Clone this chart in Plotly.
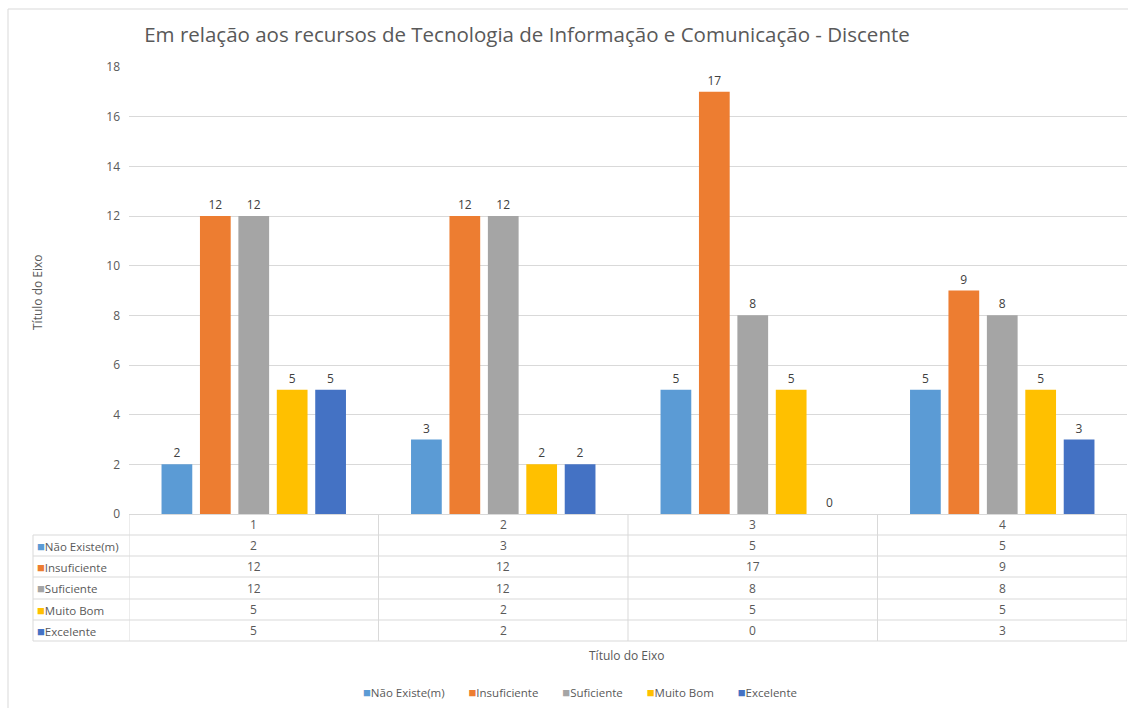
import plotly.graph_objects as go

categories = ["1", "2", "3", "4"]
series_names = ["Não Existe(m)", "Insuficiente", "Suficiente", "Muito Bom", "Excelente"]
nao_existe = [2, 3, 5, 5]
insuficiente = [12, 12, 17, 9]
suficiente = [12, 12, 8, 8]
muito_bom = [5, 2, 5, 5]
excelente = [5, 2, 0, 3]
series_values = [nao_existe, insuficiente, suficiente, muito_bom, excelente]
colors = ["#5B9BD5", "#ED7D31", "#A5A5A5", "#FFC000", "#4472C4"]

title_text = "Em relação aos recursos de Tecnologia de Informação e Comunicação - Discente"
axis_title = "Título do Eixo"

W, H = 1128, 708
ML, MR, MT, MB = 129, 1, 67, 194
PW, PH = W - ML - MR, H - MT - MB
FONT = "Open Sans"
TXT = "#595959"
GRID = "#D9D9D9"


def X(px):
    return (px - ML) / PW


def Y(py):
    return (H - MB - py) / PH


fig = go.Figure()
for name, vals, col in zip(series_names, series_values, colors):
    fig.add_trace(go.Bar(
        name=name, x=categories, y=vals, marker=dict(color=col, line=dict(width=0)),
        text=[str(v) for v in vals], textposition="outside",
        textfont=dict(size=12, color="#404040", family=FONT), cliponaxis=False,
        showlegend=False,
    ))

shapes = []
# outer chart border
shapes.append(dict(type="rect", xref="paper", yref="paper", x0=X(8), x1=X(1140), y0=Y(9), y1=Y(720),
                   line=dict(color=GRID, width=1), layer="below"))
# table horizontal lines
row_lines = [535, 556, 577, 599, 620, 641]
for py in row_lines:
    shapes.append(dict(type="line", xref="paper", yref="paper", x0=X(33), x1=X(1127), y0=Y(py), y1=Y(py),
                       line=dict(color=GRID, width=1)))
# table vertical lines at category boundaries
for b in [-0.5, 0.5, 1.5, 2.5, 3.5]:
    shapes.append(dict(type="line", xref="x", yref="paper", x0=b, x1=b, y0=0, y1=Y(641),
                       line=dict(color=GRID, width=1)))
shapes.append(dict(type="line", xref="paper", yref="paper", x0=X(33), x1=X(33), y0=Y(535), y1=Y(641),
                   line=dict(color=GRID, width=1)))

annotations = []
# header row category labels
for i, c in enumerate(categories):
    annotations.append(dict(x=i, y=Y(524.5), xref="x", yref="paper", text=c, showarrow=False,
                            font=dict(size=12, color=TXT, family=FONT), xanchor="center", yanchor="middle"))
# table rows
for r, (name, vals, col) in enumerate(zip(series_names, series_values, colors)):
    cy = (row_lines[r] + row_lines[r + 1]) / 2
    annotations.append(dict(x=X(35), y=Y(cy), xref="paper", yref="paper",
                            text=f"<span style='color:{col};font-size:13px'>■</span>{name}", showarrow=False,
                            font=dict(size=11.5, color=TXT, family=FONT), xanchor="left", yanchor="middle"))
    for i, v in enumerate(vals):
        annotations.append(dict(x=i, y=Y(cy), xref="x", yref="paper", text=str(v), showarrow=False,
                                font=dict(size=12, color=TXT, family=FONT), xanchor="center", yanchor="middle"))
# axis titles
annotations.append(dict(x=X(37), y=Y(292), xref="paper", yref="paper", text=axis_title, textangle=-90,
                        showarrow=False, font=dict(size=12, color=TXT, family=FONT),
                        xanchor="center", yanchor="middle"))
annotations.append(dict(x=X(627), y=Y(655), xref="paper", yref="paper", text=axis_title,
                        showarrow=False, font=dict(size=12, color=TXT, family=FONT),
                        xanchor="center", yanchor="middle"))
# legend (Excel-style compact legend)
legend_parts = [f"<span style='color:{col};font-size:13px'>■</span>{name}"
                for name, col in zip(series_names, colors)]
legend_sep = "&nbsp;" * 8
annotations.append(dict(x=X(580), y=Y(692), xref="paper", yref="paper",
                        text=legend_sep.join(legend_parts),
                        showarrow=False, font=dict(size=11.5, color=TXT, family=FONT),
                        xanchor="center", yanchor="middle"))

fig.update_layout(
    width=W, height=H,
    margin=dict(l=ML, r=MR, t=MT, b=MB),
    paper_bgcolor="white", plot_bgcolor="white",
    font=dict(family=FONT, color=TXT, size=12),
    title=dict(text=title_text, x=527 / W, xanchor="center", y=1 - 35 / H, yanchor="middle",
               font=dict(size=20.5, color=TXT, family=FONT)),
    barmode="group", bargap=0.23, bargroupgap=0.2,
    showlegend=False,
    shapes=shapes, annotations=annotations,
    xaxis=dict(type="category", range=[-0.5, 3.5], showticklabels=False, showgrid=False, zeroline=False,
               showline=True, linecolor=GRID, linewidth=1, ticks=""),
    yaxis=dict(range=[0, 18], dtick=2, showgrid=True, gridcolor=GRID, gridwidth=1, zeroline=False,
               showline=False, ticks="", tickfont=dict(size=12, color=TXT, family=FONT),
               ticklabelstandoff=8),
)

fig.write_html("out.html", config={"displayModeBar": False},
               post_script="document.body.style.margin='0';document.body.style.overflow='hidden';")
